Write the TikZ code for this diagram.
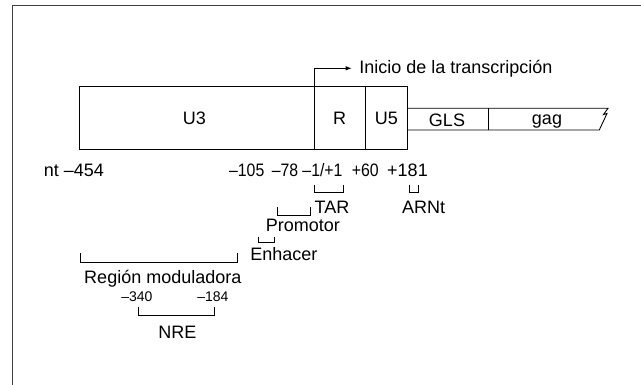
\documentclass[tikz,border=0pt]{standalone}
\usepackage{fontspec}
\setmainfont{Liberation Sans}
\usetikzlibrary{arrows.meta}
\newcommand{\narrowtxt}[1]{\scalebox{0.88}[1]{#1}}
\begin{document}
\begin{tikzpicture}[x=1pt,y=-1pt,line width=0.9pt,
  lbl/.style={inner sep=0pt,anchor=base,font=\fontsize{18}{20}\selectfont},
  lblw/.style={inner sep=0pt,anchor=base west,font=\fontsize{18}{20}\selectfont},
  sml/.style={inner sep=0pt,anchor=base,font=\fontsize{14}{16}\selectfont},
  frame/.style={black!75,line width=1pt}]
\useasboundingbox (0,0) rectangle (641,385);
% frame
\draw[frame] (641,5.3) -- (12.7,5.3) -- (12.7,385);
% main box
\draw (79.3,86.7) rectangle (407.3,149.3);
\draw (314,86.7) -- (314,149.3);
\draw (365.3,86.7) -- (365.3,149.3);
% strip
\draw (407.3,108.3) -- (608,108.3) -- (603.5,114.5) -- (607,113.5) -- (599.3,130) -- (407.3,130);
\draw (488,108.3) -- (488,130);
% box labels
\node[lbl] (u3) at (194.3,124.4) {U3};
\node[lbl] (r) at (339.7,124.4) {R};
\node[lbl] (u5) at (386.3,124.4) {U5};
\node[lbl] (gls) at (447,126.5) {GLS};
\node[lbl] (gag) at (547,125) {gag};
% transcription start
\coordinate (rtop) at (314,86.7);
\node[lblw] (inicio) at (359,73.3) {Inicio de la transcripción};
\draw[-{Latex[length=6pt,width=4.5pt]}] (rtop) -- (314,68.3) -- (351.7,68.3);
% positions
\node[lbl] (nt) at (73.8,176.7) {nt –454};
\node[lbl] (p105) at (246.7,176.7) {\narrowtxt{–105}};
\node[lbl] (p78) at (285,176.7) {\narrowtxt{–78}};
\node[lbl] (p1) at (322.5,176.7) {\narrowtxt{–1/+1}};
\node[lbl] (p60) at (365.3,176.7) {\narrowtxt{+60}};
\node[lbl] (p181) at (407.5,176.7) {+181};
% brackets and labels
\draw (314.3,185) -- (314.3,192.3) -- (343.3,192.3) -- (343.3,185);
\node[lbl] (tar) at (332,214) {TAR};
\draw (409.3,185) -- (409.3,192.3) -- (418.3,192.3) -- (418.3,185);
\node[lbl] (arnt) at (423.7,214) {ARNt};
\draw (277.3,207) -- (277.3,215.7) -- (310.7,215.7) -- (310.7,207);
\node[lbl] (prom) at (302.9,231.7) {Promotor};
\draw (258.3,236.7) -- (258.3,242.3) -- (274,242.3) -- (274,236.7);
\node[lbl] (enh) at (283.8,260.7) {Enhacer};
\draw (80.7,253.3) -- (80.7,262.7) -- (237.7,262.7) -- (237.7,253.3);
\node[lbl] (reg) at (162.8,284) {Región moduladora};
\node[sml] (m340) at (136.9,301.7) {–340};
\node[sml] (m184) at (212.9,301.7) {–184};
\draw (138.3,306.7) -- (138.3,315) -- (214.3,315) -- (214.3,306.7);
\node[lbl] (nre) at (177.5,338) {NRE};
\end{tikzpicture}
\end{document}
